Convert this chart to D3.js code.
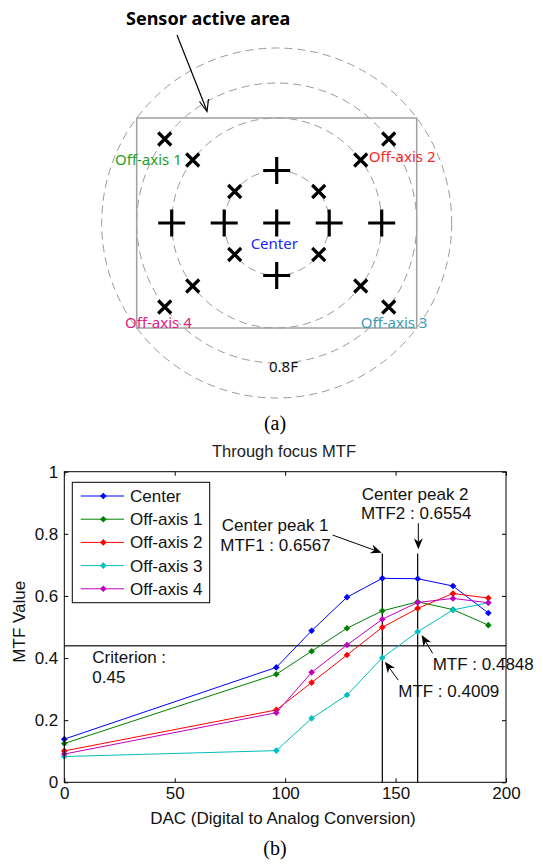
<!DOCTYPE html>
<html>
<head>
<meta charset="utf-8">
<script src="https://cdn.jsdelivr.net/npm/d3@7"></script>
<style>
  body { margin: 0; background: #fff; }
  svg { display: block; }
</style>
</head>
<body>
<svg id="fig" width="543" height="864"></svg>
<script>
// ---- (a) field layout ----
const ringFields = [0.3, 0.6, 0.8, 1.0];
const plusPoints = [[0, 0], [-0.3, 0], [0.3, 0], [-0.6, 0], [0.6, 0], [0, -0.3], [0, 0.3]];
const crossFields = [0.3, 0.6, 0.8];
const sensorHalf = [0.8, 0.6];
const fieldLabels = [
    { text: 'Off-axis 1', color: '#22a022', x: -0.924, y: -0.334 },
    { text: 'Off-axis 2', color: '#ff2626', x: 0.526, y: -0.346 },
    { text: 'Off-axis 4', color: '#e0207f', x: -0.867, y: 0.600 },
    { text: 'Off-axis 3', color: '#3f9bb3', x: 0.480, y: 0.600 },
    { text: 'Center', color: '#2424ff', x: -0.149, y: 0.149 },
    { text: '0.8F', color: '#111', x: -0.044, y: 0.853 }
];

// ---- (b) through focus MTF ----
const dac = [0, 96, 112, 128, 144, 160, 176, 192];
const center = [0.139, 0.370, 0.488, 0.596, 0.6567, 0.6554, 0.632, 0.545];
const offAxis1 = [0.125, 0.348, 0.422, 0.496, 0.552, 0.581, 0.556, 0.506];
const offAxis2 = [0.101, 0.233, 0.321, 0.410, 0.499, 0.560, 0.608, 0.593];
const offAxis3 = [0.083, 0.102, 0.206, 0.281, 0.4009, 0.4848, 0.555, 0.578];
const offAxis4 = [0.091, 0.224, 0.354, 0.442, 0.525, 0.579, 0.592, 0.578];
const seriesNames = ['Center', 'Off-axis 1', 'Off-axis 2', 'Off-axis 3', 'Off-axis 4'];
const seriesColors = ['#0000ff', '#008000', '#ff0000', '#00bfbf', '#bf00bf'];
const xTicks = [0, 50, 100, 150, 200];
const yTicks = [0, 0.2, 0.4, 0.6, 0.8, 1];
const criterion = 0.44;
const peakDac = [144, 160];
const peakTop = 0.737;

const svg = d3.select('#fig');

/* ---------- figure (a) ---------- */
const cx = 276.7, cy = 223;
const f = d3.scaleLinear().domain([0, 1]).range([0, 175]);
const diagram = svg.append('g');

diagram.selectAll('circle.ring')
    .data(ringFields)
    .enter().append('circle')
    .attr('cx', cx).attr('cy', cy)
    .attr('r', d => f(d))
    .attr('fill', 'none')
    .attr('stroke', '#9a9a9a')
    .attr('stroke-width', 1)
    .attr('stroke-dasharray', '8,5');

diagram.append('rect')
    .attr('x', cx - f(sensorHalf[0]))
    .attr('y', cy - f(sensorHalf[1]))
    .attr('width', 2 * f(sensorHalf[0]))
    .attr('height', 2 * f(sensorHalf[1]))
    .attr('fill', 'none')
    .attr('stroke', '#a0a0a0')
    .attr('stroke-width', 1.5);

// plus marks
plusPoints.forEach(p => {
    var px = cx + f(p[0]), py = cy + f(p[1]);
    diagram.append('path')
        .attr('d', `M${px - 13.5},${py}H${px + 13.5}M${px},${py - 13.5}V${py + 13.5}`)
        .attr('stroke', '#000').attr('stroke-width', 3.2).attr('fill', 'none');
});

// cross marks on the diagonals (3:4 aspect)
crossFields.forEach(r => {
    [[-1, -1], [1, -1], [-1, 1], [1, 1]].forEach(s => {
        var px = cx + s[0] * f(r) * 0.8, py = cy + s[1] * f(r) * 0.6;
        var h = 6.5;
        diagram.append('path')
            .attr('d', `M${px - h},${py - h}L${px + h},${py + h}M${px + h},${py - h}L${px - h},${py + h}`)
            .attr('stroke', '#000').attr('stroke-width', 3.2).attr('fill', 'none');
    });
});

diagram.selectAll('text.flabel')
    .data(fieldLabels)
    .enter().append('text')
    .attr('x', d => cx + f(d.x))
    .attr('y', d => cy + f(d.y))
    .attr('fill', d => d.color)
    .attr('font-family', '"Noto Sans", sans-serif')
    .attr('font-size', 15)
    .text(d => d.text);

diagram.append('text')
    .attr('x', 126).attr('y', 25)
    .attr('font-family', '"Noto Sans", sans-serif')
    .attr('font-weight', 'bold')
    .attr('font-size', 18)
    .attr('fill', '#000')
    .text('Sensor active area');

// pointer arrow
diagram.append('line')
    .attr('x1', 177).attr('y1', 35).attr('x2', 207).attr('y2', 111)
    .attr('stroke', '#000').attr('stroke-width', 1.2);
diagram.append('path')
    .attr('d', 'M199.5,101.5L207,111.5L208.5,99')
    .attr('stroke', '#000').attr('stroke-width', 1.2).attr('fill', 'none');

svg.append('text')
    .attr('x', 275).attr('y', 430)
    .attr('text-anchor', 'middle')
    .attr('font-family', '"Liberation Serif", "Times New Roman", serif')
    .attr('font-size', 20)
    .text('(a)');

/* ---------- figure (b) ---------- */
const plot = { left: 64.3, right: 506, top: 471.7, bottom: 782.3 };
const x = d3.scaleLinear().domain([0, 200]).range([plot.left, plot.right]);
const y = d3.scaleLinear().domain([0, 1]).range([plot.bottom, plot.top]);
const FONT = 'Arial, "Liberation Sans", sans-serif';

const chart = svg.append('g');

chart.append('rect')
    .attr('x', plot.left).attr('y', plot.top)
    .attr('width', plot.right - plot.left)
    .attr('height', plot.bottom - plot.top)
    .attr('fill', '#fff');

function styleAxis(g) {
    g.select('.domain').remove();
    g.selectAll('line').attr('stroke', '#000');
    g.selectAll('text')
        .attr('font-family', FONT)
        .attr('font-size', 17)
        .attr('fill', '#111');
}

chart.append('g')
    .attr('transform', `translate(0,${plot.bottom})`)
    .call(d3.axisBottom(x).tickValues(xTicks).tickSizeInner(-4).tickSizeOuter(0).tickPadding(5).tickFormat(d3.format('d')))
    .call(styleAxis);
chart.append('g')
    .attr('transform', `translate(0,${plot.top})`)
    .call(d3.axisTop(x).tickValues(xTicks).tickSizeInner(-4).tickSizeOuter(0).tickFormat(''))
    .call(styleAxis);
chart.append('g')
    .attr('transform', `translate(${plot.left},0)`)
    .call(d3.axisLeft(y).tickValues(yTicks).tickSizeInner(-4).tickSizeOuter(0).tickPadding(6).tickFormat(d3.format('~g')))
    .call(styleAxis);
chart.append('g')
    .attr('transform', `translate(${plot.right},0)`)
    .call(d3.axisRight(y).tickValues(yTicks).tickSizeInner(-4).tickSizeOuter(0).tickFormat(''))
    .call(styleAxis);

// criterion line
chart.append('line')
    .attr('x1', x(0)).attr('x2', x(200))
    .attr('y1', y(criterion)).attr('y2', y(criterion))
    .attr('stroke', '#3a3a3a').attr('stroke-width', 1.5);

// peak marker lines
chart.selectAll('line.peak')
    .data(peakDac)
    .enter().append('line')
    .attr('x1', d => x(d)).attr('x2', d => x(d))
    .attr('y1', y(0)).attr('y2', y(peakTop))
    .attr('stroke', '#000').attr('stroke-width', 1.2);

// series
const allSeries = [center, offAxis1, offAxis2, offAxis3, offAxis4];
const line = d3.line().x(d => x(d[0])).y(d => y(d[1]));
const diamond = d3.symbol().type(d3.symbolSquare).size(22);

allSeries.forEach((vals, i) => {
    var pts = dac.map((d, j) => [d, vals[j]]);
    chart.append('path')
        .datum(pts)
        .attr('fill', 'none')
        .attr('stroke', seriesColors[i])
        .attr('stroke-width', 1)
        .attr('d', line);
    chart.selectAll(null)
        .data(pts)
        .enter().append('path')
        .attr('d', diamond)
        .attr('transform', d => `translate(${x(d[0])},${y(d[1])}) rotate(45)`)
        .attr('fill', seriesColors[i]);
});

// box
chart.append('rect')
    .attr('x', plot.left).attr('y', plot.top)
    .attr('width', plot.right - plot.left)
    .attr('height', plot.bottom - plot.top)
    .attr('fill', 'none')
    .attr('stroke', '#000').attr('stroke-width', 1);

// legend
const legend = chart.append('g');
legend.append('rect')
    .attr('x', 72.3).attr('y', 482.3)
    .attr('width', 137.4).attr('height', 120.4)
    .attr('fill', '#fff').attr('stroke', '#000').attr('stroke-width', 1);
seriesNames.forEach((name, i) => {
    var ly = 496 + i * 23.2;
    legend.append('line')
        .attr('x1', 80.7).attr('x2', 124).attr('y1', ly).attr('y2', ly)
        .attr('stroke', seriesColors[i]).attr('stroke-width', 1);
    legend.append('path')
        .attr('d', diamond)
        .attr('transform', `translate(103.3,${ly}) rotate(45)`)
        .attr('fill', seriesColors[i]);
    legend.append('text')
        .attr('x', 130).attr('y', ly + 6)
        .attr('font-family', FONT).attr('font-size', 17).attr('fill', '#111')
        .text(name);
});

// annotations
function arrow(x1, y1, x2, y2) {
    var a = Math.atan2(y2 - y1, x2 - x1);
    var len = 11, w = 4.5;
    var bx = x2 - len * Math.cos(a), by = y2 - len * Math.sin(a);
    var mx = x2 - len * 0.7 * Math.cos(a), my = y2 - len * 0.7 * Math.sin(a);
    var nx = -Math.sin(a), ny = Math.cos(a);
    chart.append('line')
        .attr('x1', x1).attr('y1', y1).attr('x2', mx).attr('y2', my)
        .attr('stroke', '#000').attr('stroke-width', 1);
    chart.append('path')
        .attr('d', `M${x2},${y2}L${bx + nx * w},${by + ny * w}L${mx},${my}L${bx - nx * w},${by - ny * w}Z`)
        .attr('fill', '#000');
}

const arrows = [
    [121.5, 0.796, 143.7, 0.739],
    [160.3, 0.834, 160.3, 0.750],
    [166.8, 0.415, 161.8, 0.474],
    [151.2, 0.329, 145.2, 0.388]
];
arrows.forEach(a => arrow(x(a[0]), y(a[1]), x(a[2]), y(a[3])));

const notes = [
    { text: 'Center peak 1', x: 71.3, y: 0.810 },
    { text: 'MTF1 : 0.6567', x: 70.6, y: 0.746 },
    { text: 'Center peak 2', x: 134.7, y: 0.909 },
    { text: 'MTF2 : 0.6554', x: 134.3, y: 0.848 },
    { text: 'MTF : 0.4848', x: 166.8, y: 0.362 },
    { text: 'MTF : 0.4009', x: 151.2, y: 0.274 },
    { text: 'Criterion :', x: 12.7, y: 0.385 },
    { text: '0.45', x: 12.7, y: 0.321 }
];
chart.selectAll('text.note')
    .data(notes)
    .enter().append('text')
    .attr('x', d => x(d.x)).attr('y', d => y(d.y))
    .attr('font-family', FONT).attr('font-size', 17).attr('fill', '#111')
    .text(d => d.text);

// title and axis labels
chart.append('text')
    .attr('x', 284).attr('y', 457)
    .attr('text-anchor', 'middle')
    .attr('font-family', FONT).attr('font-size', 16.5).attr('fill', '#222')
    .text('Through focus MTF');
chart.append('text')
    .attr('x', 283).attr('y', 824)
    .attr('text-anchor', 'middle')
    .attr('font-family', FONT).attr('font-size', 17).attr('fill', '#111')
    .text('DAC (Digital to Analog Conversion)');
chart.append('text')
    .attr('transform', 'translate(24.5,621.7) rotate(-90)')
    .attr('text-anchor', 'middle')
    .attr('font-family', FONT).attr('font-size', 17).attr('fill', '#111')
    .text('MTF Value');

svg.append('text')
    .attr('x', 275).attr('y', 855)
    .attr('text-anchor', 'middle')
    .attr('font-family', '"Liberation Serif", "Times New Roman", serif')
    .attr('font-size', 20)
    .text('(b)');
</script>
</body>
</html>
